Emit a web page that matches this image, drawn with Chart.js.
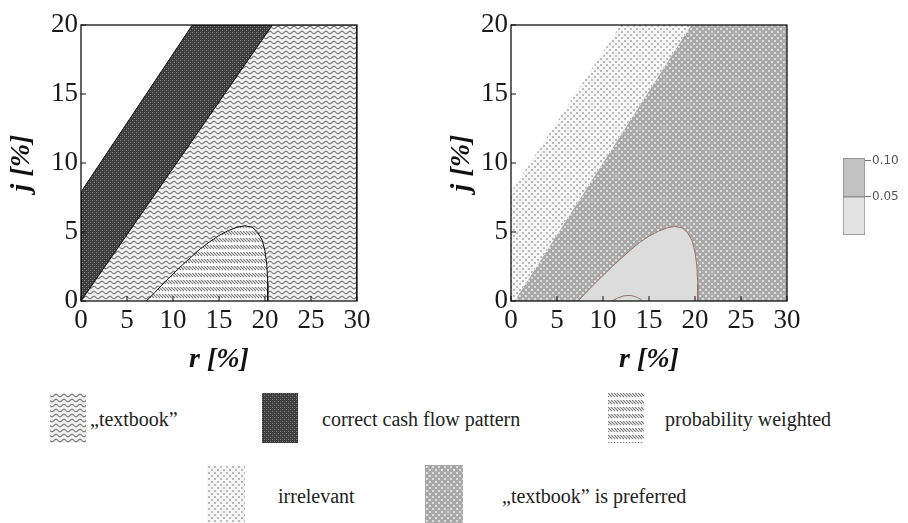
<!DOCTYPE html>
<html>
<head>
<meta charset="utf-8">
<script src="https://cdn.jsdelivr.net/npm/chart.js@4.4.1/dist/chart.umd.min.js"></script>
<style>
  html, body { margin: 0; padding: 0; background: #fff; }
  body { width: 908px; height: 523px; position: relative; overflow: hidden; }
  canvas.chart { position: absolute; }
  .sw { position: absolute; }
  .lt { position: absolute; font-family: 'Liberation Serif', 'Times New Roman', serif; font-size: 20px; color: #222; white-space: nowrap; line-height: 1; }
</style>
</head>
<body>
<canvas id="left" class="chart" width="440" height="385" style="left:0;top:0"></canvas>
<canvas id="right" class="chart" width="440" height="385" style="left:440px;top:0"></canvas>
<canvas id="cbar" class="chart" width="88" height="110" style="left:820px;top:140px"></canvas>

<canvas id="sw1" class="sw" width="36" height="50" style="left:50px;top:393px"></canvas>
<div class="lt" style="left:90px;top:409px">„textbook”</div>
<canvas id="sw2" class="sw" width="36" height="50" style="left:262px;top:393px"></canvas>
<div class="lt" style="left:322px;top:409px">correct cash flow pattern</div>
<canvas id="sw3" class="sw" width="36" height="50" style="left:608px;top:393px"></canvas>
<div class="lt" style="left:665px;top:409px">probability weighted</div>
<canvas id="sw4" class="sw" width="38" height="58" style="left:207px;top:465px"></canvas>
<div class="lt" style="left:278px;top:486px">irrelevant</div>
<canvas id="sw5" class="sw" width="38" height="58" style="left:425px;top:465px"></canvas>
<div class="lt" style="left:502px;top:486px">„textbook” is preferred</div>

<script>
// ---------------- DATA ----------------
const xTickValues = [0, 5, 10, 15, 20, 25, 30];
const yTickValues = [0, 5, 10, 15, 20];
const rRange = [0, 30];
const jRange = [0, 20];

// left panel boundaries (r, j in %)
const leftUpperR = [0, 12.1];
const leftUpperJ = [7.9, 20];
const leftLowerR = [0, 20.8];
const leftLowerJ = [0, 20];
const probCurveR = [7.1, 8, 9, 10, 11, 12, 13, 14, 15, 16, 17, 17.8, 18.6, 19.2, 19.7, 20.0, 20.2, 20.3, 20.3];
const probCurveJ = [0, 0.6, 1.3, 1.95, 2.6, 3.2, 3.8, 4.3, 4.75, 5.1, 5.35, 5.45, 5.35, 5.0, 4.4, 3.6, 2.6, 1.3, 0];

// right panel boundaries
const rightUpperR = [0, 11.9];
const rightUpperJ = [7.9, 20];
const rightLowerR = [0.4, 19.6];
const rightLowerJ = [0, 20];
const contour05R = [7.3, 8, 9, 10, 11, 12, 13, 14, 15, 16, 17, 17.8, 18.6, 19.2, 19.7, 20.0, 20.2, 20.3, 20.3];
const contour05J = [0, 0.5, 1.2, 1.85, 2.5, 3.1, 3.7, 4.25, 4.7, 5.05, 5.3, 5.4, 5.3, 4.95, 4.35, 3.55, 2.55, 1.25, 0];
const contour10R = [11.0, 11.6, 12.3, 13.0, 13.6, 14.1, 14.3];
const contour10J = [0, 0.22, 0.38, 0.4, 0.3, 0.12, 0];

// colorbar
const cbLevels = [0.05, 0.10];
const cbRange = [-0.003, 0.104];

// ---------------- PATTERNS ----------------
function tile(w, h, draw) {
  const c = document.createElement('canvas');
  c.width = w; c.height = h;
  draw(c.getContext('2d'), w, h);
  return c;
}
const tiles = {
  wavy: tile(8, 5, (g, w, h) => {
    g.fillStyle = '#f2f2f2'; g.fillRect(0, 0, w, h);
    g.strokeStyle = '#7c7c7c'; g.lineWidth = 1.3;
    g.beginPath();
    for (let i = 0; i <= 16; i++) {
      const x = i * w / 16;
      const y = 2.5 + 1.1 * Math.sin(2 * Math.PI * x / w);
      if (i === 0) g.moveTo(x, y); else g.lineTo(x, y);
    }
    g.stroke();
  }),
  dark: tile(4, 4, (g) => {
    g.fillStyle = '#3a3a3a'; g.fillRect(0, 0, 4, 4);
    g.fillStyle = '#8c8c8c'; g.fillRect(0, 0, 1, 1); g.fillRect(2, 2, 1, 1);
    g.fillStyle = '#5a5a5a'; g.fillRect(2, 0, 1, 1); g.fillRect(0, 2, 1, 1);
  }),
  hatch: tile(6, 7, (g) => {
    g.fillStyle = '#ffffff'; g.fillRect(0, 0, 6, 7);
    g.strokeStyle = '#7e7e7e'; g.lineWidth = 1.2;
    g.beginPath();
    for (let x = -6; x < 9; x += 3) { g.moveTo(x, 0); g.lineTo(x + 4, 4); }
    g.stroke();
  }),
  light: tile(6, 6, (g) => {
    g.fillStyle = '#f6f6f6'; g.fillRect(0, 0, 6, 6);
    g.fillStyle = '#bcbcbc'; g.fillRect(1, 1, 2, 2); g.fillRect(4, 4, 2, 2);
  }),
  gray: tile(6, 6, (g) => {
    g.fillStyle = '#a9a9a9'; g.fillRect(0, 0, 6, 6);
    g.fillStyle = '#dcdcdc'; g.fillRect(1, 1, 2, 2); g.fillRect(4, 4, 2, 2);
  })
};
const ctx0 = document.createElement('canvas').getContext('2d');
const pat = {};
for (const k in tiles) pat[k] = ctx0.createPattern(tiles[k], 'repeat');

// legend swatches
[['sw1', 'wavy'], ['sw2', 'dark'], ['sw3', 'hatch'], ['sw4', 'light'], ['sw5', 'gray']].forEach(([id, k]) => {
  const c = document.getElementById(id), g = c.getContext('2d');
  g.fillStyle = g.createPattern(tiles[k], 'repeat');
  g.fillRect(0, 0, c.width, c.height);
});

// ---------------- HELPERS ----------------
const pts = (rs, js) => rs.map((r, i) => ({ x: r, y: js[i] }));
const rev = a => a.slice().reverse();
const TR = { x: rRange[1], y: jRange[1] };
const BR = { x: rRange[1], y: jRange[0] };
const BL = { x: rRange[0], y: jRange[0] };

function region(data, fillStyle, border, bw, order) {
  return {
    data, showLine: true, fill: 'shape', backgroundColor: fillStyle,
    borderColor: border || 'rgba(0,0,0,0)', borderWidth: bw || 0,
    pointRadius: 0, pointHoverRadius: 0, tension: 0, order
  };
}

const serif = "'Liberation Serif', 'Times New Roman', serif";

const framePlugin = {
  id: 'frame',
  afterDatasetsDraw(chart) {
    const { ctx, chartArea: a, scales: { x, y } } = chart;
    ctx.save();
    ctx.strokeStyle = '#111'; ctx.lineWidth = 1.3;
    ctx.strokeRect(a.left, a.top, a.right - a.left, a.bottom - a.top);
    ctx.beginPath();
    xTickValues.forEach(v => { const p = x.getPixelForValue(v); ctx.moveTo(p, a.bottom); ctx.lineTo(p, a.bottom - 5); });
    yTickValues.forEach(v => { const p = y.getPixelForValue(v); ctx.moveTo(a.left, p); ctx.lineTo(a.left + 5, p); });
    ctx.lineWidth = 1;
    ctx.stroke();
    ctx.restore();
  }
};

function panelOptions(padRight, axisWidth) {
  return {
    responsive: false, animation: false, devicePixelRatio: 1,
    layout: { padding: { left: 0, top: 25, right: padRight, bottom: 0 } },
    plugins: { legend: { display: false }, tooltip: { enabled: false } },
    scales: {
      x: {
        type: 'linear', min: rRange[0], max: rRange[1], position: 'bottom',
        afterFit: s => { s.height = 385 - 301; },
        afterBuildTicks: s => { s.ticks = xTickValues.map(v => ({ value: v })); },
        ticks: { font: { family: serif, size: 27 }, color: '#1a1a1a', padding: 4, maxRotation: 0, autoSkip: false },
        grid: { display: false, drawTicks: false }, border: { display: false },
        title: { display: true, text: 'r [%]', color: '#111', font: { family: serif, size: 28, weight: 'bold', style: 'italic' }, padding: { top: 0, bottom: 8 } }
      },
      y: {
        type: 'linear', min: jRange[0], max: jRange[1], position: 'left',
        afterFit: s => { s.width = axisWidth; },
        afterBuildTicks: s => { s.ticks = yTickValues.map(v => ({ value: v })); },
        ticks: { font: { family: serif, size: 27 }, color: '#1a1a1a', padding: 3, autoSkip: false },
        grid: { display: false, drawTicks: false }, border: { display: false },
        title: { display: true, text: 'j [%]', color: '#111', font: { family: serif, size: 28, weight: 'bold', style: 'italic' }, padding: { top: 5, bottom: 0 } }
      }
    }
  };
}

// ---------------- LEFT PANEL ----------------
const lUpper = pts(leftUpperR, leftUpperJ);
const lLower = pts(leftLowerR, leftLowerJ);
new Chart(document.getElementById('left'), {
  type: 'scatter',
  data: {
    datasets: [
      region(pts(probCurveR, probCurveJ), pat.hatch, '#111', 1, 1),
      region([...lLower, TR, BR], pat.wavy, '#111', 1, 2),
      region([...lLower, ...rev(lUpper), BL], pat.dark, '#111', 1, 3)
    ]
  },
  options: panelOptions(440 - 357, 81),
  plugins: [framePlugin]
});

// ---------------- RIGHT PANEL ----------------
const rUpper = pts(rightUpperR, rightUpperJ);
const rLower = pts(rightLowerR, rightLowerJ);
new Chart(document.getElementById('right'), {
  type: 'scatter',
  data: {
    datasets: [
      region(pts(contour10R, contour10J), '#dcdcdc', '#9a7070', 1, 1),
      region(pts(contour05R, contour05J), '#dcdcdc', '#9a7070', 1, 2),
      region([...rLower, TR, BR], pat.gray, 'rgba(0,0,0,0)', 0, 3),
      region([BL, ...rLower, ...rev(rUpper)], pat.light, 'rgba(0,0,0,0)', 0, 4)
    ]
  },
  options: panelOptions(440 - 347, 71),
  plugins: [framePlugin]
});

// ---------------- COLORBAR ----------------
new Chart(document.getElementById('cbar'), {
  type: 'bar',
  data: {
    labels: [''],
    datasets: [
      { data: [[cbRange[0], cbLevels[0]]], backgroundColor: '#e3e3e3', borderColor: '#8a8a8a', borderWidth: 1, borderSkipped: false, grouped: false, barPercentage: 1, categoryPercentage: 1 },
      { data: [[cbLevels[0], cbRange[1]]], backgroundColor: '#c2c2c2', borderColor: '#8a8a8a', borderWidth: 1, borderSkipped: false, grouped: false, barPercentage: 1, categoryPercentage: 1 }
    ]
  },
  options: {
    responsive: false, animation: false, devicePixelRatio: 1,
    layout: { padding: { left: 23, top: 18, right: 0, bottom: 15 } },
    plugins: { legend: { display: false }, tooltip: { enabled: false } },
    scales: {
      x: { display: false },
      y: {
        position: 'right', min: cbRange[0], max: cbRange[1],
        afterFit: s => { s.width = 43; },
        afterBuildTicks: s => { s.ticks = cbLevels.map(v => ({ value: v })); },
        ticks: { font: { family: "'DejaVu Sans', sans-serif", size: 12 }, color: '#555', padding: 1, callback: v => Number(v).toFixed(2) },
        grid: { drawOnChartArea: false, drawTicks: true, tickLength: 6, color: '#777' },
        border: { display: false }
      }
    }
  }
});
</script>
</body>
</html>
